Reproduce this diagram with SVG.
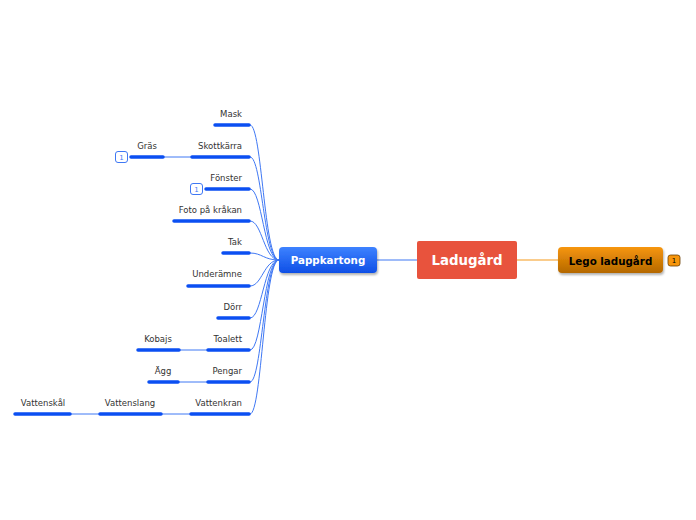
<svg xmlns="http://www.w3.org/2000/svg" width="696" height="520" viewBox="0 0 696 520">
<defs>
<linearGradient id="gBlue" x1="0" y1="0" x2="0" y2="1"><stop offset="0" stop-color="#3d82ff"/><stop offset="1" stop-color="#0f4fe6"/></linearGradient>
<linearGradient id="gOrange" x1="0" y1="0" x2="0" y2="1"><stop offset="0" stop-color="#f7960c"/><stop offset="1" stop-color="#b46800"/></linearGradient>
<filter id="sh" x="-10%" y="-10%" width="130%" height="140%"><feDropShadow dx="1" dy="2" stdDeviation="1" flood-color="#000" flood-opacity="0.3"/></filter>
</defs>
<style>
text{font-family:"DejaVu Sans",Verdana,sans-serif}
.lbl{font-size:8.5px;fill:#333}
.bar{stroke:#0b4ff2;stroke-width:3.5;stroke-linecap:round;fill:none}
.con{stroke:#3f78f4;stroke-width:1;fill:none}
.badge{fill:#fff;stroke:#3f78f4;stroke-width:1}
.btxt{font-size:7px;fill:#3f78f4;text-anchor:middle}
</style>
<rect width="696" height="520" fill="#fff"/>
<g id="connectors">
<line x1="377" y1="260" x2="417" y2="260" stroke="#3f78f4" stroke-width="1.2"/>
<line x1="517" y1="260" x2="558" y2="260" stroke="#f59a1a" stroke-width="1.2"/>
<path class="con" d="M250 125 C262 125 264 260 279 260"/>
<path class="con" d="M250 157 C262 157 264 260 279 260"/>
<path class="con" d="M250 189 C262 189 264 260 279 260"/>
<path class="con" d="M250 221 C262 221 264 260 279 260"/>
<path class="con" d="M250 253 C262 253 264 260 279 260"/>
<path class="con" d="M250 286 C262 286 264 260 279 260"/>
<path class="con" d="M250 318 C262 318 264 260 279 260"/>
<path class="con" d="M250 350 C262 350 264 260 279 260"/>
<path class="con" d="M250 382 C262 382 264 260 279 260"/>
<path class="con" d="M250 414 C262 414 264 260 279 260"/>
<line class="con" x1="163" y1="157" x2="191" y2="157"/>
<line class="con" x1="180" y1="350" x2="207" y2="350"/>
<line class="con" x1="179" y1="382" x2="207" y2="382"/>
<line class="con" x1="162" y1="414" x2="190" y2="414"/>
<line class="con" x1="71" y1="414" x2="99" y2="414"/>
</g>
<g id="ladugard">
<rect x="417" y="241" width="100" height="38" rx="2" fill="#e8533d"/>
<text x="467" y="265" font-size="13.3" font-weight="bold" fill="#fff" text-anchor="middle">Ladugård</text>
</g>
<g id="pappkartong">
<rect x="279" y="247" width="98" height="26" rx="4" fill="url(#gBlue)" filter="url(#sh)"/>
<text x="328" y="264" font-size="10.3" font-weight="bold" fill="#fff" text-anchor="middle">Pappkartong</text>
</g>
<g id="lego">
<rect x="558" y="247" width="105" height="26" rx="4" fill="url(#gOrange)" filter="url(#sh)"/>
<text x="610.5" y="264.5" font-size="10.3" font-weight="bold" fill="#000" text-anchor="middle">Lego ladugård</text>
<rect x="668" y="255" width="12" height="11" rx="2.5" fill="#f7960c" stroke="#6a3d00" stroke-width="0.8"/>
<text x="674" y="263" font-size="7" fill="#000" text-anchor="middle">1</text>
</g>
<g id="mask"><line class="bar" x1="215" y1="125" x2="249" y2="125"/><text class="lbl" x="242" y="117" text-anchor="end">Mask</text></g>
<g id="skottkarra"><line class="bar" x1="192" y1="157" x2="249" y2="157"/><text class="lbl" x="242" y="149" text-anchor="end">Skottkärra</text></g>
<g id="gras"><line class="bar" x1="131" y1="157" x2="163" y2="157"/><text class="lbl" x="147" y="149" text-anchor="middle">Gräs</text>
<rect class="badge" x="115.5" y="151.5" width="12" height="11" rx="2.5"/><text class="btxt" x="121.5" y="159.5">1</text></g>
<g id="fonster"><line class="bar" x1="206" y1="189" x2="249" y2="189"/><text class="lbl" x="242" y="181" text-anchor="end">Fönster</text>
<rect class="badge" x="190.5" y="183.5" width="12" height="11" rx="2.5"/><text class="btxt" x="196.5" y="191.5">1</text></g>
<g id="foto"><line class="bar" x1="174" y1="221" x2="249" y2="221"/><text class="lbl" x="242" y="213" text-anchor="end">Foto på kråkan</text></g>
<g id="tak"><line class="bar" x1="223" y1="253" x2="249" y2="253"/><text class="lbl" x="242" y="245" text-anchor="end">Tak</text></g>
<g id="underamne"><line class="bar" x1="188" y1="286" x2="249" y2="286"/><text class="lbl" x="242" y="277" text-anchor="end">Underämne</text></g>
<g id="dorr"><line class="bar" x1="218" y1="318" x2="249" y2="318"/><text class="lbl" x="242" y="310" text-anchor="end">Dörr</text></g>
<g id="toalett"><line class="bar" x1="208" y1="350" x2="249" y2="350"/><text class="lbl" x="242" y="342" text-anchor="end">Toalett</text></g>
<g id="kobajs"><line class="bar" x1="138" y1="350" x2="179" y2="350"/><text class="lbl" x="158" y="342" text-anchor="middle">Kobajs</text></g>
<g id="pengar"><line class="bar" x1="208" y1="382" x2="249" y2="382"/><text class="lbl" x="242" y="374" text-anchor="end">Pengar</text></g>
<g id="agg"><line class="bar" x1="149" y1="382" x2="178" y2="382"/><text class="lbl" x="163" y="374" text-anchor="middle">Ägg</text></g>
<g id="vattenkran"><line class="bar" x1="191" y1="414" x2="249" y2="414"/><text class="lbl" x="242" y="406" text-anchor="end">Vattenkran</text></g>
<g id="vattenslang"><line class="bar" x1="100" y1="414" x2="161" y2="414"/><text class="lbl" x="130" y="406" text-anchor="middle">Vattenslang</text></g>
<g id="vattenskal"><line class="bar" x1="15" y1="414" x2="70" y2="414"/><text class="lbl" x="43" y="406" text-anchor="middle">Vattenskål</text></g>
</svg>
